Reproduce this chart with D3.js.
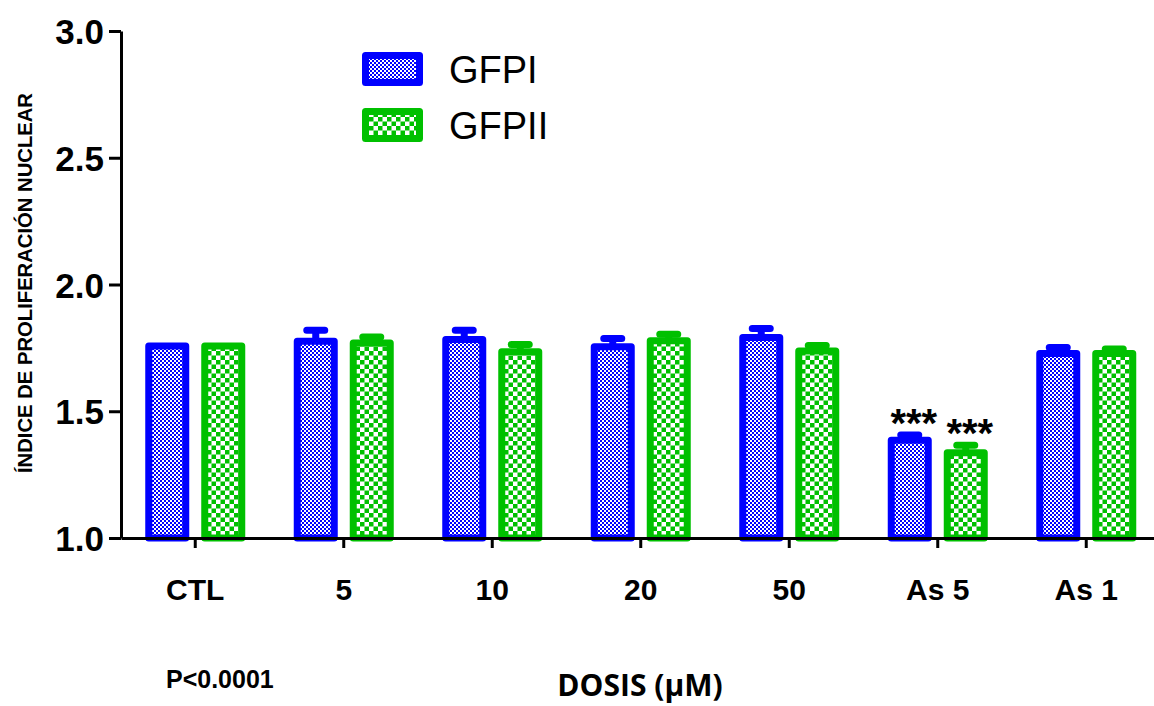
<!DOCTYPE html>
<html>
<head>
<meta charset="utf-8">
<script src="https://cdn.jsdelivr.net/npm/d3@7/dist/d3.min.js"></script>
<style>
  body { margin: 0; background: #fff; }
  svg { display: block; }
</style>
</head>
<body>
<div id="fig"></div>
<script>

// values
var categories = ["CTL", "5", "10", "20", "50", "As 5", "As 1"];
var seriesNames = ["GFPI", "GFPII"];
var gfpI   = [1.757, 1.776, 1.783, 1.754, 1.791, 1.386, 1.728];
var gfpII  = [1.757, 1.769, 1.735, 1.778, 1.738, 1.336, 1.728];
var semI   = [0, 0.044, 0.037, 0.033, 0.035, 0.020, 0.023];
var semII  = [0, 0.024, 0.028, 0.026, 0.021, 0.030, 0.018];
var starsI  = ["", "", "", "", "", "***", ""];
var starsII = ["", "", "", "", "", "***", ""];
var yTicks = [1.0, 1.5, 2.0, 2.5, 3.0];

var colors = { "GFPI": "#0000ff", "GFPII": "#00c000" };

var W = 1154, H = 706;
var svg = d3.select("#fig").append("svg")
    .attr("width", W).attr("height", H)
    .attr("font-family", "'Liberation Sans', Arial, sans-serif");

var x = d3.scaleBand().domain(categories).range([121, 1160.5]).padding(0);
var x1 = d3.scaleBand().domain(seriesNames).range([-50, 50]).paddingInner(12/56).paddingOuter(0);
var y = d3.scaleLinear().domain([1, 3]).range([538, 31]);

var bw = 7; // border width of bars

// fill patterns
var defs = svg.append("defs");
var pb = defs.append("pattern").attr("id", "pat_GFPI").attr("patternUnits", "userSpaceOnUse")
    .attr("width", 4).attr("height", 4);
pb.append("rect").attr("width", 4).attr("height", 4).attr("fill", "#fff");
pb.append("rect").attr("x", 0).attr("y", 0).attr("width", 2).attr("height", 2).attr("fill", colors.GFPI);
pb.append("rect").attr("x", 2).attr("y", 2).attr("width", 2).attr("height", 2).attr("fill", colors.GFPI);

var pg = defs.append("pattern").attr("id", "pat_GFPII").attr("patternUnits", "userSpaceOnUse")
    .attr("width", 9).attr("height", 9);
pg.append("rect").attr("width", 9).attr("height", 9).attr("fill", "#fff");
pg.append("rect").attr("x", 0).attr("y", 0).attr("width", 4.5).attr("height", 4.5).attr("fill", colors.GFPII);
pg.append("rect").attr("x", 4.5).attr("y", 4.5).attr("width", 4.5).attr("height", 4.5).attr("fill", colors.GFPII);

var rows = [];
categories.forEach(function(c, i){
    rows.push({ cat: c, s: "GFPI",  v: gfpI[i],  e: semI[i],  star: starsI[i] });
    rows.push({ cat: c, s: "GFPII", v: gfpII[i], e: semII[i], star: starsII[i] });
});

function cx(d){ return x(d.cat) + x.bandwidth()/2 + x1(d.s) + x1.bandwidth()/2; }

var g = svg.append("g");

// error bars (behind the bars)
rows.filter(function(d){ return d.e > 0; }).forEach(function(d){
    var c = cx(d);
    g.append("path")
        .attr("d", "M" + c + "," + y(d.v) + "V" + y(d.v + d.e) + "M" + (c - 9) + "," + y(d.v + d.e) + "H" + (c + 9))
        .attr("fill", "none")
        .attr("stroke", colors[d.s])
        .attr("stroke-width", bw)
        .attr("stroke-linecap", "round")
        .attr("stroke-linejoin", "round");
});

g.selectAll("rect.bar").data(rows).enter().append("rect")
    .attr("class", "bar")
    .attr("x", function(d){ return cx(d) - x1.bandwidth()/2 + bw/2; })
    .attr("width", x1.bandwidth() - bw)
    .attr("y", function(d){ return y(d.v); })
    .attr("height", function(d){ return y(1) - y(d.v); })
    .attr("fill", function(d){ return "url(#pat_" + d.s + ")"; })
    .attr("stroke", function(d){ return colors[d.s]; })
    .attr("stroke-width", bw)
    .attr("stroke-linejoin", "round");

// significance stars
g.selectAll("text.star").data(rows.filter(function(d){ return d.star; })).enter().append("text")
    .attr("class", "star")
    .attr("x", function(d){ return cx(d) + 4; })
    .attr("y", function(d){ return y(d.v + d.e) + 2; })
    .attr("text-anchor", "middle")
    .style("font-size", "40px")
    .style("font-weight", "bold")
    .text(function(d){ return d.star; });

// axes
var xAxis = svg.append("g").attr("transform", "translate(0,538)")
    .call(d3.axisBottom(x).tickSize(10).tickSizeOuter(0).tickPadding(31));
var yAxis = svg.append("g").attr("transform", "translate(121,0)")
    .call(d3.axisLeft(y).tickValues(yTicks).tickFormat(d3.format(".1f")).tickSize(12).tickSizeOuter(0).tickPadding(5));

[xAxis, yAxis].forEach(function(a){
    a.selectAll("path, line").attr("stroke", "#000").attr("stroke-width", 3);
    a.selectAll("text").attr("fill", "#000").style("font-weight", "bold")
        .attr("font-family", "'Liberation Sans', Arial, sans-serif");
});
xAxis.selectAll("text").style("font-size", "30px");
yAxis.selectAll("text").style("font-size", "35px").attr("dy", "0.36em");

// y title
svg.append("text")
    .attr("transform", "translate(32,283) rotate(-90)")
    .attr("text-anchor", "middle")
    .attr("textLength", 380)
    .attr("lengthAdjust", "spacingAndGlyphs")
    .style("font-size", "21px")
    .style("font-weight", "bold")
    .text("ÍNDICE DE PROLIFERACIÓN NUCLEAR");

// x title
svg.append("text")
    .attr("x", 640).attr("y", 696)
    .attr("text-anchor", "middle")
    .attr("font-family", "'Open Sans', 'Noto Sans', sans-serif")
    .style("font-size", "30px")
    .style("font-weight", "bold")
    .text("DOSIS (µM)");

svg.append("text")
    .attr("x", 166).attr("y", 688)
    .style("font-size", "25px")
    .style("font-weight", "bold")
    .text("P<0.0001");

// legend
var legend = svg.append("g");
seriesNames.forEach(function(s, i){
    var ly = 52 + i * 56;
    legend.append("rect")
        .attr("x", 362 + bw/2).attr("y", ly + bw/2)
        .attr("width", 61 - bw).attr("height", 34 - bw)
        .attr("fill", "url(#pat_" + s + ")")
        .attr("stroke", colors[s])
        .attr("stroke-width", bw)
        .attr("stroke-linejoin", "round");
    legend.append("text")
        .attr("x", 449).attr("y", ly + 31)
        .style("font-size", "38px")
        .text(s);
});

</script>
</body>
</html>
